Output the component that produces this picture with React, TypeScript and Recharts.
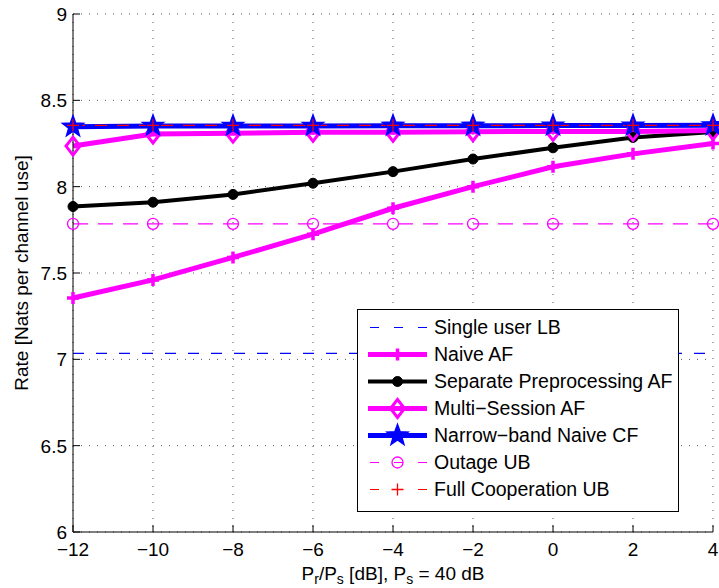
import React from "react";
import {
  LineChart,
  Line,
  XAxis,
  YAxis,
  CartesianGrid,
  Legend,
  Label,
} from "recharts";

// ---- data ----
const prOverPsDb = [-12, -10, -8, -6, -4, -2, 0, 2, 4];
const singleUserLB = [7.035, 7.035, 7.035, 7.035, 7.035, 7.035, 7.035, 7.035, 7.035];
const naiveAF = [7.355, 7.46, 7.59, 7.725, 7.875, 8.0, 8.115, 8.19, 8.25];
const separatePreprocessingAF = [7.885, 7.91, 7.955, 8.02, 8.087, 8.16, 8.225, 8.285, 8.317];
const multiSessionAF = [8.235, 8.305, 8.31, 8.315, 8.315, 8.318, 8.32, 8.32, 8.325];
const narrowBandNaiveCF = [8.347, 8.352, 8.352, 8.352, 8.353, 8.353, 8.354, 8.354, 8.355];
const outageUB = [7.785, 7.785, 7.785, 7.785, 7.785, 7.785, 7.785, 7.785, 7.785];
const fullCooperationUB = [8.355, 8.355, 8.355, 8.355, 8.355, 8.355, 8.355, 8.355, 8.355];

const xTicks = [-12, -10, -8, -6, -4, -2, 0, 2, 4];
const yTicks = [6, 6.5, 7, 7.5, 8, 8.5, 9];
const yTickLabels = ["6", "6.5", "7", "7.5", "8", "8.5", "9"];
const seriesNames = [
  "Single user LB",
  "Naive AF",
  "Separate Preprocessing AF",
  "Multi\u2212Session AF",
  "Narrow\u2212band Naive CF",
  "Outage UB",
  "Full Cooperation UB",
];

const rows = prOverPsDb.map((x, i) => ({
  x,
  s0: singleUserLB[i],
  s1: naiveAF[i],
  s2: separatePreprocessingAF[i],
  s3: multiSessionAF[i],
  s4: narrowBandNaiveCF[i],
  s5: outageUB[i],
  s6: fullCooperationUB[i],
}));

const FONT = "'Liberation Sans', Arial, Helvetica, sans-serif";
const FS = 19;
const LFS = 19.5;

// ---- marker drawing ----
type MarkerKind = "none" | "plus" | "dot" | "diamond" | "star" | "circle" | "thinplus";

function drawMarkerShape(kind: MarkerKind, cx: number, cy: number, color: string) {
  switch (kind) {
    case "plus":
      return (
        <path d={`M${cx - 6},${cy}H${cx + 6}M${cx},${cy - 6}V${cy + 6}`} stroke={color} strokeWidth={3.5} fill="none" />
      );
    case "thinplus":
      return (
        <path d={`M${cx - 6},${cy}H${cx + 6}M${cx},${cy - 6}V${cy + 6}`} stroke={color} strokeWidth={1.3} fill="none" />
      );
    case "dot":
      return <circle cx={cx} cy={cy} r={5} fill={color} stroke={color} strokeWidth={1} />;
    case "diamond":
      return (
        <path d={`M${cx},${cy - 9}L${cx + 7},${cy}L${cx},${cy + 9}L${cx - 7},${cy}Z`} stroke={color} strokeWidth={3} fill="none" />
      );
    case "star": {
      const pts: string[] = [];
      for (let k = 0; k < 10; k++) {
        const r = k % 2 === 0 ? 11 : 4.5;
        const a = -Math.PI / 2 + (k * Math.PI) / 5;
        pts.push(`${cx + r * Math.cos(a)},${cy + r * Math.sin(a)}`);
      }
      return <polygon points={pts.join(" ")} fill={color} stroke={color} strokeWidth={1.5} />;
    }
    case "circle":
      return <circle cx={cx} cy={cy} r={5.5} fill="none" stroke={color} strokeWidth={1.3} />;
    default:
      return null;
  }
}

type Series = {
  key: string;
  color: string;
  width: number;
  dash?: string;
  legendDash?: string;
  marker: MarkerKind;
};

const seriesStyle: Series[] = [
  { key: "s0", color: "#0000ff", width: 1.2, dash: "11 12", legendDash: "9 15", marker: "none" },
  { key: "s1", color: "#ff00ff", width: 5, marker: "plus" },
  { key: "s2", color: "#000000", width: 4, marker: "dot" },
  { key: "s3", color: "#ff00ff", width: 5, marker: "diamond" },
  { key: "s4", color: "#0000ff", width: 5, marker: "star" },
  { key: "s5", color: "#ff00ff", width: 1.2, dash: "15 10", legendDash: "9 15", marker: "circle" },
  { key: "s6", color: "#ff0000", width: 1.2, dash: "12 10", legendDash: "9 15", marker: "thinplus" },
];

// ---- ticks (MATLAB-style inward ticks) ----
const BottomTick = (props: any) => {
  const { x, y, payload } = props;
  const v = payload.value as number;
  const label = v < 0 ? `\u2212${Math.abs(v)}` : `${v}`;
  return (
    <g>
      <line x1={x} x2={x} y1={y - 10} y2={y - 17} stroke="#000" strokeWidth={1} />
      <text x={x} y={y} dy="0.72em" textAnchor="middle" fontFamily={FONT} fontSize={FS} fill="#000">
        {label}
      </text>
    </g>
  );
};

const TopTick = (props: any) => {
  const { x, y } = props;
  return <line x1={x} x2={x} y1={y} y2={y + 7} stroke="#000" strokeWidth={1} />;
};

const LeftTick = (props: any) => {
  const { x, y, payload } = props;
  const idx = yTicks.indexOf(payload.value);
  return (
    <g>
      <line x1={x + 6} x2={x + 13} y1={y} y2={y} stroke="#000" strokeWidth={1} />
      <text x={x} y={y} dy="0.36em" textAnchor="end" fontFamily={FONT} fontSize={FS} fill="#000">
        {idx >= 0 ? yTickLabels[idx] : payload.value}
      </text>
    </g>
  );
};

const RightTick = (props: any) => {
  const { x, y } = props;
  return <line x1={x} x2={x - 7} y1={y} y2={y} stroke="#000" strokeWidth={1} />;
};

// ---- legend ----
const LegendBox = () => (
  <div
    style={{
      border: "1px solid #000",
      background: "#fff",
      width: 322,
      height: 203,
      boxSizing: "border-box",
      paddingTop: 4,
      fontFamily: FONT,
      fontSize: LFS,
      color: "#000",
    }}
  >
    {seriesStyle.map((s, i) => (
      <div key={s.key} style={{ display: "flex", alignItems: "center", height: 27 }}>
        <svg width={59} height={27} style={{ marginLeft: 10, flex: "none" }}>
          <line
            x1={0}
            x2={59}
            y1={13.5}
            y2={13.5}
            stroke={s.color}
            strokeWidth={s.width}
            strokeDasharray={s.legendDash}
            strokeDashoffset={s.legendDash ? -2 : undefined}
          />
          {drawMarkerShape(s.marker, 29.5, 13.5, s.color)}
        </svg>
        <span style={{ marginLeft: 7, whiteSpace: "nowrap" }}>{seriesNames[i]}</span>
      </div>
    ))}
  </div>
);

// ---- axis labels ----
const YLabel = (props: any) => {
  const vb = props.viewBox;
  const cx = vb.x + 21;
  const cy = vb.y + vb.height / 2;
  return (
    <text
      x={cx}
      y={cy}
      transform={`rotate(-90 ${cx} ${cy})`}
      textAnchor="middle"
      dominantBaseline="central"
      fontFamily={FONT}
      fontSize={FS}
      fill="#000"
    >
      Rate [Nats per channel use]
    </text>
  );
};

const XLabel = (props: any) => {
  const vb = props.viewBox;
  const cx = vb.x + vb.width / 2;
  const y = vb.y + 48;
  return (
    <text x={cx} y={y} textAnchor="middle" fontFamily={FONT} fontSize={FS} fill="#000">
      <tspan>P</tspan>
      <tspan dy={4} fontSize={14}>r</tspan>
      <tspan dy={-4}>/P</tspan>
      <tspan dy={4} fontSize={14}>s</tspan>
      <tspan dy={-4}> [dB], P</tspan>
      <tspan dy={4} fontSize={14}>s</tspan>
      <tspan dy={-4}> = 40 dB</tspan>
    </text>
  );
};

export default function App() {
  return (
    <div style={{ position: "absolute", left: 0, top: 0, width: 719, height: 588, background: "#fff" }}>
      <LineChart width={719} height={588} data={rows} margin={{ top: 14, right: 6, left: 0, bottom: 0 }}>
        <CartesianGrid stroke="#555" strokeDasharray="1 7" strokeWidth={1} />
        <XAxis
          dataKey="x"
          type="number"
          domain={[-12, 4]}
          ticks={xTicks}
          height={56}
          axisLine={{ stroke: "#000", strokeWidth: 1 }}
          tickLine={false}
          tickSize={0}
          tickMargin={10}
          tick={<BottomTick />}
          interval={0}
        >
          <Label content={<XLabel />} />
        </XAxis>
        <XAxis
          xAxisId="top"
          orientation="top"
          dataKey="x"
          type="number"
          domain={[-12, 4]}
          ticks={xTicks}
          height={0}
          axisLine={{ stroke: "#000", strokeWidth: 1 }}
          tickLine={false}
          tickSize={0}
          tickMargin={0}
          tick={<TopTick />}
          interval={0}
        />
        <YAxis
          type="number"
          domain={[6, 9]}
          ticks={yTicks}
          width={73}
          axisLine={{ stroke: "#000", strokeWidth: 1 }}
          tickLine={false}
          tickSize={0}
          tickMargin={6}
          tick={<LeftTick />}
          interval={0}
        >
          <Label content={<YLabel />} />
        </YAxis>
        <YAxis
          yAxisId="right"
          orientation="right"
          type="number"
          domain={[6, 9]}
          ticks={yTicks}
          width={0}
          axisLine={{ stroke: "#000", strokeWidth: 1 }}
          tickLine={false}
          tickSize={0}
          tickMargin={0}
          tick={<RightTick />}
          interval={0}
        />
        {seriesStyle.map((s) => (
          <Line
            key={s.key}
            dataKey={s.key}
            type="linear"
            stroke={s.color}
            strokeWidth={s.width}
            strokeDasharray={s.dash}
            isAnimationActive={false}
            activeDot={false}
            dot={
              s.marker === "none"
                ? false
                : (p: any) => {
                    const k = `${s.key}-${p.index}`;
                    if (p.cx == null || p.cy == null) return <g key={k} />;
                    return <g key={k}>{drawMarkerShape(s.marker, p.cx, p.cy, s.color)}</g>;
                  }
            }
          />
        ))}
        <Legend
          layout="vertical"
          align="center"
          verticalAlign="middle"
          wrapperStyle={{ left: 357, top: 309, width: 322, height: 203 }}
          content={() => <LegendBox />}
        />
      </LineChart>
    </div>
  );
}
